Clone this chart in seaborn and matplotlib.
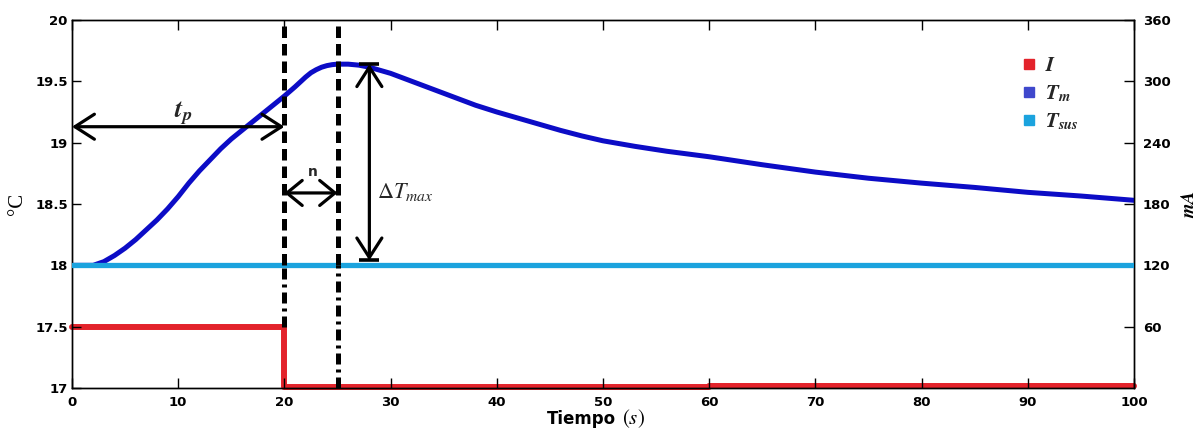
import matplotlib
matplotlib.use("Agg")
import matplotlib.pyplot as plt
from matplotlib.lines import Line2D
from matplotlib.patches import FancyArrowPatch
import seaborn as sns

# Sample temperature T_m (°C) against time (s)
time_s = [0, 2, 3, 4, 5, 6, 7, 8, 9, 10, 11, 12, 13, 14, 15, 16, 17, 18, 19, 20,
          21, 22, 22.5, 23, 23.5, 24, 24.5, 25, 26, 27, 28, 29, 30, 32, 34, 36,
          38, 40, 42, 44, 46, 48, 50, 53, 56, 60, 65, 70, 75, 80, 85, 90, 95, 100]
temp_m = [18.00, 18.00, 18.03, 18.08, 18.14, 18.21, 18.29, 18.37, 18.46, 18.56,
          18.67, 18.77, 18.86, 18.95, 19.03, 19.10, 19.17, 19.24, 19.31, 19.38,
          19.455, 19.535, 19.57, 19.595, 19.615, 19.628, 19.636, 19.64, 19.64,
          19.632, 19.615, 19.59, 19.565, 19.50, 19.435, 19.37, 19.305, 19.25,
          19.20, 19.15, 19.10, 19.055, 19.015, 18.97, 18.93, 18.885, 18.82,
          18.76, 18.71, 18.67, 18.635, 18.595, 18.565, 18.53]

# Support temperature T_sus (°C)
sus_time = [0, 100]
temp_sus = [18.0, 18.0]

# Heating current I (mA), piecewise constant
current_time = [0, 20, 60, 100]
current_ma = [60, 0.5, 2.0, 2.0]

# Axis ticks
x_ticks = [0, 10, 20, 30, 40, 50, 60, 70, 80, 90, 100]
temp_ticks = [17, 17.5, 18, 18.5, 19, 19.5, 20]
temp_ticklabels = ["17", "17.5", "18", "18.5", "19", "19.5", "20"]
ma_ticks = [60, 120, 180, 240, 300, 360]

# Characteristic times (s)
t_pulse_end = 20      # current switched off
t_peak = 25           # temperature maximum
t_dtmax = 28          # where the ΔT_max bracket is drawn
lower_ends = [17.5, 17.0]   # lower end of the two marker lines

RED = "#e3232b"
BLUE = "#0c0cc6"
LBLUE = "#1ba3de"
LEG_BLUE = "#3f48cc"

sns.set_theme(style="white")
plt.rcParams["font.family"] = ["DejaVu Sans"]
plt.rcParams["mathtext.fontset"] = "stix"

fig = plt.figure(figsize=(11.98, 4.30), dpi=100)
ax = fig.add_axes([0.0601, 0.0977, 0.8865, 0.8558])
ax2 = ax.twinx()
ax.set_zorder(ax2.get_zorder() + 1)
ax.patch.set_visible(False)

# Current on the right axis
sns.lineplot(x=current_time, y=current_ma, ax=ax2, color=RED, lw=4.3,
             drawstyle="steps-post", sort=False, estimator=None, clip_on=False)

# Temperatures on the left axis
sns.lineplot(x=time_s, y=temp_m, ax=ax, color=BLUE, lw=3.6, sort=False,
             estimator=None, zorder=2, solid_joinstyle="round")
sns.lineplot(x=sus_time, y=temp_sus, ax=ax, color=LBLUE, lw=3.8, sort=False,
             estimator=None, zorder=3)

ax.set_xlim(0, 100)
ax.set_ylim(17, 20)
ax2.set_ylim(0, 360)

t_base = temp_sus[0]
t_max = max(temp_m)
y_top = temp_ticks[-1]

# Marker lines at pulse end and at the maximum
for xv, y_low in zip([t_pulse_end, t_peak], lower_ends):
    ax.plot([xv, xv], [t_base, y_top], color="black", lw=3.6,
            ls=(0, (2.3, 1.2)), dash_capstyle="butt", clip_on=False, zorder=5)
    ax.plot([xv, xv], [y_low, t_base], color="black", lw=3.6,
            ls=(0, (2.2, 1.0, 0.6, 1.0)), dash_capstyle="butt", clip_on=False,
            zorder=5)

arrow_style = "<->,head_length=0.7,head_width=0.45"

# t_p arrow
y_tp = 19.13
ax.add_patch(FancyArrowPatch((x_ticks[0], y_tp), (t_pulse_end, y_tp),
                             arrowstyle=arrow_style, mutation_scale=20, lw=2.3,
                             color="black", shrinkA=0, shrinkB=0, clip_on=False,
                             zorder=6))
ax.text(10.5, 19.235, r"$\mathbfit{t}_{\mathbfit{p}}$", fontsize=19,
        ha="center", va="center", zorder=6)

# n arrow
y_n = 18.59
ax.add_patch(FancyArrowPatch((t_pulse_end, y_n), (t_peak, y_n),
                             arrowstyle="<->,head_length=0.55,head_width=0.45",
                             mutation_scale=20, lw=2.3, color="black",
                             shrinkA=0, shrinkB=0, zorder=6))
ax.text(22.7, 18.76, "n", fontsize=10, fontweight="bold", ha="center",
        va="center", zorder=6)

# ΔT_max bracket
y_low_dt = t_base + 0.04
ax.add_patch(FancyArrowPatch((t_dtmax, y_low_dt), (t_dtmax, t_max),
                             arrowstyle=arrow_style, mutation_scale=20, lw=2.3,
                             color="black", shrinkA=0, shrinkB=0, zorder=6))
ax.hlines([y_low_dt, t_max], t_dtmax - 0.95, t_dtmax + 0.95, color="black",
          lw=2.6, zorder=6)
ax.text(28.75, 18.60, r"$\Delta T_{max}$", fontsize=16, ha="left",
        va="center", zorder=6)

# Ticks and labels
tick_font = dict(fontsize=9.5, fontweight="bold")
ax.set_xticks(x_ticks)
ax.set_xticklabels([str(v) for v in x_ticks], **tick_font)
ax.set_yticks(temp_ticks)
ax.set_yticklabels(temp_ticklabels, **tick_font)
ax2.set_yticks(ma_ticks)
ax2.set_yticklabels([str(v) for v in ma_ticks], **tick_font)

ax.tick_params(axis="x", direction="in", length=7, width=1.0, top=True,
               bottom=True, pad=6, color="black", labelcolor="black")
ax.tick_params(axis="y", direction="in", length=6.5, width=1.0, left=True,
               right=False, pad=3, color="black", labelcolor="black")
ax2.tick_params(axis="y", direction="in", length=7, width=1.0, right=True,
                pad=6.5, color="black", labelcolor="black")

for a in (ax, ax2):
    for sp in a.spines.values():
        sp.set_visible(True)
        sp.set_color("black")
        sp.set_linewidth(1.0)

# Axis titles: "Tiempo" in bold sans, the unit in math italic
ax.text(0.5125, -0.098, "Tiempo", transform=ax.transAxes, fontsize=12,
        fontweight="bold", ha="right", va="baseline", color="black")
ax.text(0.5175, -0.098, "$(s)$", transform=ax.transAxes, fontsize=15,
        ha="left", va="baseline", color="black")
ax.set_ylabel("°C", fontsize=15, family="Liberation Serif", color="black")
ax.yaxis.set_label_coords(-0.042, 0.5)
ax2.set_ylabel(r"$\mathbfit{mA}$", fontsize=13.5, color="black")
ax2.yaxis.set_label_coords(1.042, 0.5)

# Legend
handles = [Line2D([], [], ls="none", marker="s", ms=7, mfc=c, mec=c)
           for c in (RED, LEG_BLUE, LBLUE)]
labels = [r"$\mathbfit{I}$", r"$\mathbfit{T}_{\mathbfit{m}}$",
          r"$\mathbfit{T}_{\mathbfit{sus}}$"]
ax.legend(handles, labels, loc="upper left", bbox_to_anchor=(0.895, 0.905),
          frameon=False, fontsize=15, handlelength=0.6, handletextpad=0.5,
          labelspacing=0.38, borderaxespad=0, borderpad=0)

fig.savefig("out.png", dpi=100)
